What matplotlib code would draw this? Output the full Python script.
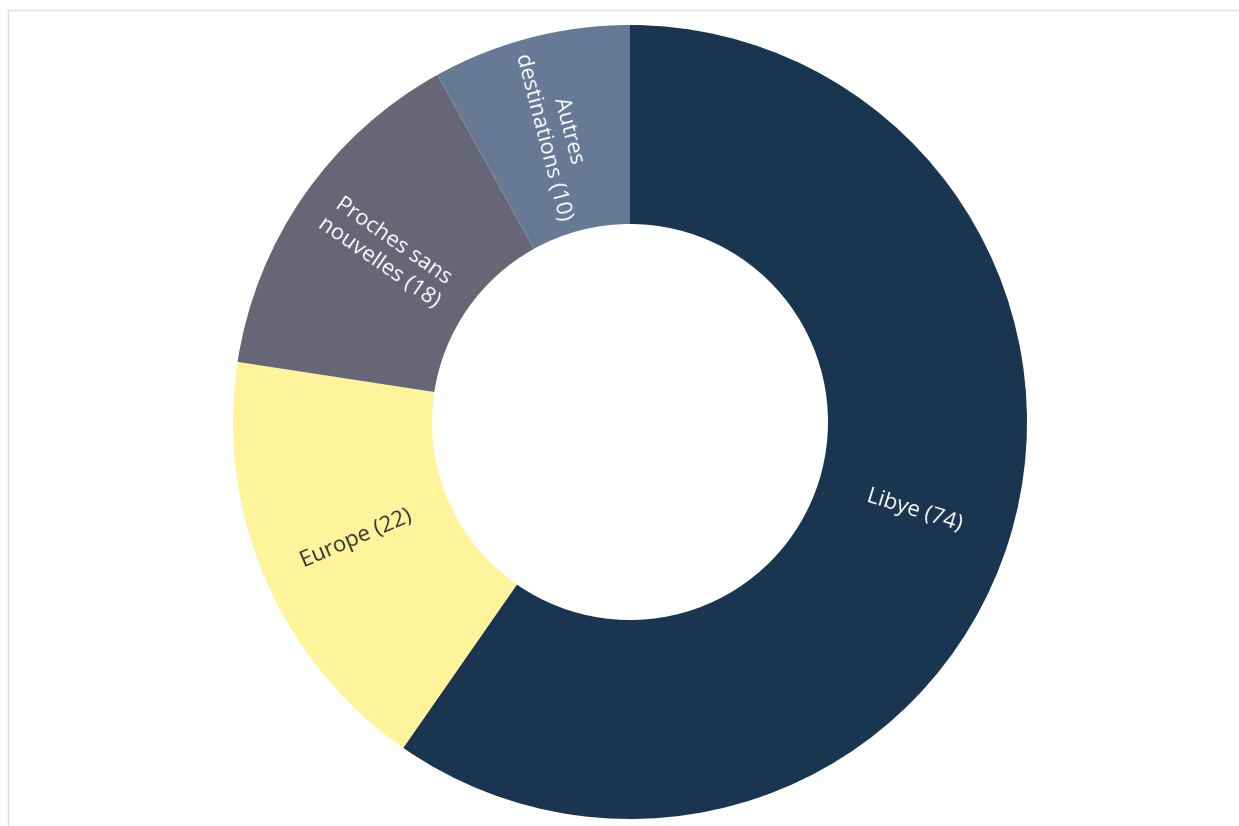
import numpy as np
import matplotlib.pyplot as plt
from matplotlib.lines import Line2D

# destinations of the missing persons
categories = ['Libye', 'Europe', 'Proches sans\nnouvelles', 'Autres\ndestinations']
values = [74, 22, 18, 10]
colors = ['#1a3550', '#fff39c', '#666677', '#667a96']
text_colors = ['white', '#333333', 'white', 'white']

W, H = 1239, 826
fig = plt.figure(figsize=(W / 100, H / 100), dpi=100)
ax = fig.add_axes([0, 0, 1, 1])

cx, cy = 630, H - 422
r_out, r_in = 397, 198

ax.pie(values, center=(cx, cy), radius=r_out, startangle=90, counterclock=False,
       colors=colors, wedgeprops=dict(width=r_out - r_in, linewidth=0), frame=True)
ax.set_xlim(0, W)
ax.set_ylim(0, H)
ax.set_aspect('equal')
ax.axis('off')

# labels along the radius, in the middle of the ring
total = sum(values)
cum = np.cumsum([0] + values)
r_mid = (r_out + r_in) / 2
for i, (cat, v) in enumerate(zip(categories, values)):
    mid = (cum[i] + v / 2) / total * 360
    ang = 90 - mid
    x = cx + r_mid * np.cos(np.radians(ang))
    y = cy + r_mid * np.sin(np.radians(ang))
    rot = ang
    if rot < -90:
        rot += 180
    elif rot > 90:
        rot -= 180
    ax.text(x, y, f'{cat} ({v})', rotation=rot, rotation_mode='anchor',
            ha='center', va='center', color=text_colors[i], fontsize=16,
            family='Open Sans', linespacing=1.3)

# thin frame at the top and left
fig.add_artist(Line2D([8 / W, 1], [1 - 10 / H, 1 - 10 / H], color='#dddddd', lw=1))
fig.add_artist(Line2D([8 / W, 8 / W], [0, 1 - 10 / H], color='#dddddd', lw=1))

fig.savefig('out.png', dpi=100, facecolor='white')
